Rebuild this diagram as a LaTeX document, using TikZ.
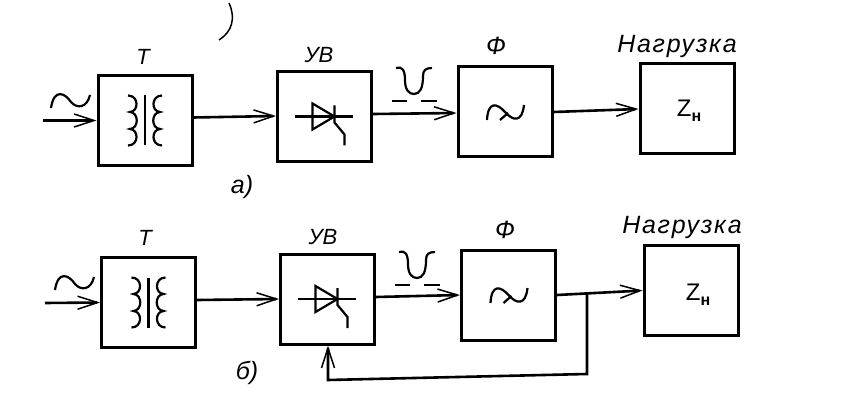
\documentclass[tikz,border=0pt]{standalone}
\usepackage{fontspec}
\setmainfont{Liberation Sans}
\usetikzlibrary{arrows.meta}
\tikzset{
  blok/.style={draw, line width=3pt, minimum width=94pt, minimum height=90pt, inner sep=0pt},
  svyaz/.style={line width=2.6pt, -{Straight Barb[length=20pt,width=13pt,line width=1.5pt]}},
  znak/.style={line width=2.2pt},
  podpis/.style={font=\fontsize{22}{22}\selectfont\itshape},
  podpisbig/.style={font=\fontsize{25}{25}\selectfont\itshape}
}
\begin{document}
\begin{tikzpicture}[x=1pt,y=-1pt]
\useasboundingbox (0,0) rectangle (841,401);

% Blocchi
\foreach \name/\x/\y in {Ta/145/120.5,UVa/324.5/116.5,Fa/505/112,Za/687/109,
                         Tb/148.5/302.5,UVb/327.5/299,Fb/508.5/295,Zb/691/290.5} {
    \node[blok] (\name) at (\x,\y) {};
}

% Scritte sopra i blocchi
\node[podpis] (labTa) at (143,57) {Т};
\node[podpis] (labUVa) at (319,55) {УВ};
\node[podpisbig] (labFa) at (496,46) {Ф};
\node[podpisbig] (labZa) at (677,46) {\addfontfeatures{LetterSpace=7}Нагрузка};
\node[podpis] (labTb) at (145,238) {Т};
\node[podpis] (labUVb) at (323,237) {УВ};
\node[podpisbig] (labFb) at (505,230) {Ф};
\node[podpisbig] (labZb) at (682,227) {\addfontfeatures{LetterSpace=7}Нагрузка};
\node[podpisbig] (capa) at (242,187) {а)};
\node[podpisbig] (capb) at (247,373) {б)};
\node[font=\fontsize{24}{24}\selectfont] (loada) at (689,111) {Z\raisebox{-5pt}{\fontsize{16}{16}\selectfont\bfseries н}};
\node[font=\fontsize{24}{24}\selectfont] (loadb) at (698,295) {Z\raisebox{-5pt}{\fontsize{16}{16}\selectfont\bfseries н}};

% Estremi liberi
\coordinate (ina) at (43,120.5);
\coordinate (inb) at (45,303);
\coordinate (fbk) at (587,294);
\coordinate (fbl) at (587,374);
\coordinate (fbr) at (328,380);

% Collegamenti
\draw[svyaz] (ina) -- (Ta.west);
\draw[svyaz] ([yshift=3pt]Ta.east) -- ([yshift=0.5pt]UVa.west);
\draw[svyaz] ([yshift=2.5pt]UVa.east) -- ([yshift=-1pt]Fa.west);
\draw[svyaz] (Fa.east) -- (Za.west);
\draw[svyaz] (inb) -- (Tb.west);
\draw[svyaz] ([yshift=2.5pt]Tb.east) -- (UVb.west);
\draw[svyaz] ([yshift=2pt]UVb.east) -- (Fb.west);
\draw[svyaz] (Fb.east) -- (Zb.west);
% Retroazione
\draw[svyaz] (fbk) -- (fbl) -- (fbr) -- (UVb.south -| fbr);

% Trasformatori
\foreach \x/\y in {145/120.5,148.5/302.5} {
  \begin{scope}[shift={(\x,\y)},znak]
    \draw (0,-25) -- (0,25);
    \foreach \s in {-1,1} {
      \draw (\s*17,-25) .. controls (\s*6,-25) and (\s*6,-9) .. (\s*15,-8.5)
            .. controls (\s*6,-8) and (\s*6,8) .. (\s*15,8.5)
            .. controls (\s*6,9) and (\s*6,25) .. (\s*17,25);
    }
  \end{scope}
}

% Tiristori
\foreach \x/\y in {324.5/116.5,327.5/299} {
  \begin{scope}[shift={(\x,\y)},znak]
    \draw (-30,0) -- (28,0);
    \draw (-12,-13) -- (-12,13) -- (10,0) -- cycle;
    \draw (10,-11) -- (10,6) -- (20,18) -- (20,29);
  \end{scope}
}

% Filtri
\foreach \x/\y in {505/112,508.5/295} {
  \begin{scope}[shift={(\x,\y)},znak]
    \draw (-18,8) .. controls (-17,-11) and (-8,-9) .. (0,0)
          .. controls (8,9) and (17,11) .. (19,-7);
    \draw (-5,8) -- (3,1);
  \end{scope}
}

% Tilde di ingresso e impulsi
\foreach \x/\y in {51/108,55/290} {
  \draw[znak] (\x,\y) .. controls (\x+3,\y-20) and (\x+14,\y-15) .. (\x+20,\y-6)
        .. controls (\x+26,\y+1) and (\x+36,\y) .. (\x+39,\y-13);
}
\foreach \x/\y in {396/68,399/252} {
  \draw[znak] (\x,\y) .. controls (\x+6,\y-2) and (\x+9,\y+2) .. (\x+9,\y+12)
        .. controls (\x+9,\y+22) and (\x+13,\y+26) .. (\x+18,\y+26)
        .. controls (\x+24,\y+26) and (\x+27,\y+20) .. (\x+27,\y+8)
        .. controls (\x+27,\y+2) and (\x+30,\y) .. (\x+36,\y);
  \draw[znak] (\x-4,\y+33) -- (\x+11,\y+33);
  \draw[znak] (\x+25,\y+33) -- (\x+41,\y+33);
}

% Segno in alto
\draw[line width=1.5pt] (229,3) .. controls (236,18) and (232,32) .. (219,40);
\end{tikzpicture}
\end{document}
